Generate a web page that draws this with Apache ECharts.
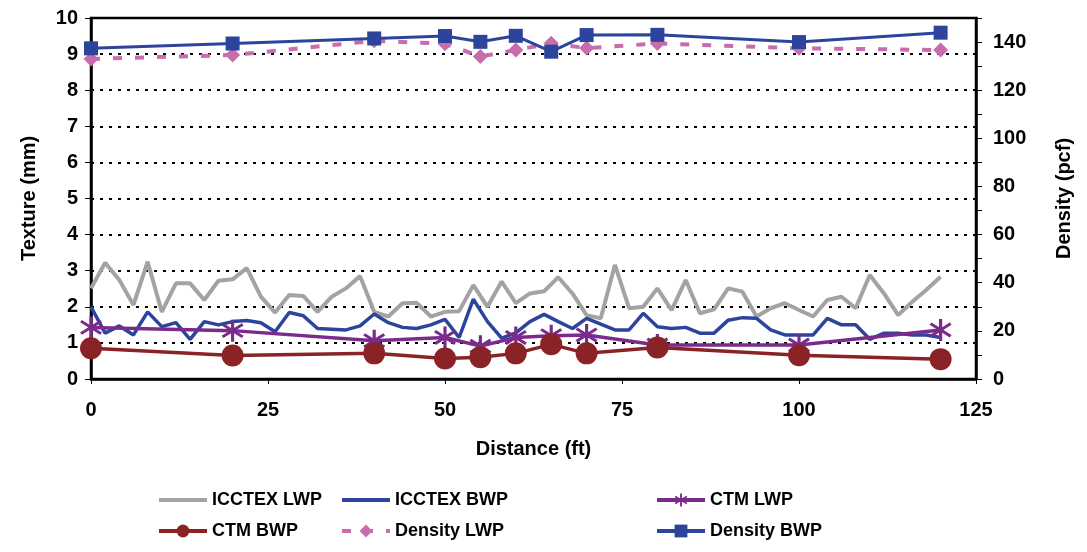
<!DOCTYPE html>
<html>
<head>
<meta charset="utf-8">
<script src="https://cdn.jsdelivr.net/npm/echarts@6/dist/echarts.min.js"></script>
<style>html,body{margin:0;padding:0;background:#fff}#c{width:1087px;height:552px}</style>
</head>
<body>
<div id="c"></div>
<script>
// ---------- data ----------
const icctexDist = [0,2,4,6,8,10,12,14,16,18,20,22,24,26,28,30,32,34,36,38,40,42,44,46,48,50,52,54,56,58,60,62,64,66,68,70,72,74,76,78,80,82,84,86,88,90,92,94,96,98,100,102,104,106,108,110,112,114,116,118,120];
const icctexLWP = [2.51,3.22,2.74,2.05,3.25,1.86,2.65,2.65,2.19,2.72,2.76,3.07,2.28,1.84,2.33,2.30,1.86,2.28,2.51,2.85,1.86,1.73,2.10,2.11,1.73,1.86,1.88,2.60,2.00,2.70,2.10,2.37,2.43,2.82,2.37,1.77,1.68,3.16,1.96,2.00,2.51,1.91,2.74,1.82,1.93,2.51,2.42,1.73,1.96,2.10,1.91,1.73,2.19,2.28,1.96,2.88,2.37,1.77,2.14,2.47,2.83];
const icctexBWP = [2.00,1.27,1.47,1.22,1.86,1.45,1.56,1.10,1.59,1.50,1.59,1.62,1.56,1.31,1.84,1.75,1.40,1.38,1.36,1.47,1.80,1.56,1.43,1.40,1.50,1.65,1.15,2.21,1.59,1.13,1.28,1.59,1.79,1.59,1.40,1.68,1.52,1.36,1.36,1.82,1.45,1.40,1.43,1.27,1.27,1.63,1.70,1.68,1.36,1.22,1.22,1.22,1.68,1.50,1.50,1.10,1.27,1.27,1.22,1.22,1.15];
const ctmDist = [0,20,40,50,55,60,65,70,80,100,120];
const ctmLWP = [1.43,1.34,1.06,1.15,0.91,1.15,1.20,1.22,0.94,0.94,1.36];
const ctmBWP = [0.85,0.65,0.71,0.57,0.60,0.71,0.96,0.71,0.87,0.66,0.55];
const densDist = [0,20,40,50,55,60,65,70,80,100,120];
const densityLWP = [133.0,134.6,140.5,139.3,134.0,136.7,139.5,137.5,139.4,137.4,136.7];
const densityBWP = [137.4,139.4,141.5,142.5,140.1,142.6,136.0,142.9,143.0,140.0,143.9];
const xTicks = [0,25,50,75,100,125];
const seriesNames = ['ICCTEX LWP','ICCTEX BWP','CTM LWP','CTM BWP','Density LWP','Density BWP'];

// ---------- helpers ----------
function pairs(xs, ys){ return xs.map((x,i)=>[x, ys[i]]); }
function asteriskPath(){
  const c = 10, L = 10, w = 1.3, angles = [90, 35, -35];
  let d = '';
  angles.forEach(a=>{
    const r = a*Math.PI/180, ux = Math.cos(r), uy = Math.sin(r), px = -uy, py = ux;
    const pts = [
      [c-ux*L+px*w, c-uy*L+py*w],[c+ux*L+px*w, c+uy*L+py*w],
      [c+ux*L-px*w, c+uy*L-py*w],[c-ux*L-px*w, c-uy*L-py*w]];
    d += 'M'+pts.map(p=>p[0].toFixed(2)+' '+p[1].toFixed(2)).join(' L')+' Z ';
  });
  return 'path://' + d;
}
const FONT = 'Liberation Sans, Arial, sans-serif';
const cGray = '#a3a3a3', cBlue = '#2c449b', cPurple = '#7b2b8c', cRed = '#8a2325', cPink = '#c86cae';

const chart = echarts.init(document.getElementById('c'), null, {renderer:'canvas'});
const legendCols = [157, 340, 655];
const legendRows = [491, 522];
const legends = seriesNames.map((n,i)=>({
  data:[ i<2 ? {name:n, itemStyle:{opacity:0}, lineStyle:{width:4}} : {name:n, lineStyle:{width:4}} ],
  left: legendCols[i%3], top: legendRows[Math.floor(i/3)], padding:0,
  itemWidth: 48, itemHeight: 16, itemGap: 0, selectedMode:false,
  textStyle:{fontFamily:FONT, fontSize:18, fontWeight:'bold', color:'#000'}
}));

chart.setOption({
  animation:false,
  backgroundColor:'#fff',
  legend: legends,
  grid:{left:91, right:111, top:18, bottom:173, show:true, borderColor:'#000', borderWidth:2.5, backgroundColor:'transparent'},
  xAxis:{type:'value', min:0, max:125, interval:25,
    name:'Distance (ft)', nameLocation:'middle', nameGap:60,
    nameTextStyle:{fontFamily:FONT, fontSize:20, fontWeight:'bold', color:'#000'},
    axisLine:{lineStyle:{color:'#000', width:2.5}},
    axisTick:{show:true, length:5, lineStyle:{color:'#000', width:1}},
    axisLabel:{fontFamily:FONT, fontSize:20, fontWeight:'bold', color:'#000', margin:21, formatter:v=> xTicks.includes(v)? String(v):''},
    splitLine:{show:false}},
  yAxis:[
    {type:'value', min:0, max:10, interval:1, position:'left',
     name:'Texture (mm)', nameLocation:'middle', nameGap:52,
     nameTextStyle:{fontFamily:FONT, fontSize:20, fontWeight:'bold', color:'#000'},
     axisLine:{show:true, lineStyle:{color:'#000', width:2.5}},
     axisTick:{show:true, length:6, lineStyle:{color:'#000', width:1}},
     axisLabel:{fontFamily:FONT, fontSize:20, fontWeight:'bold', color:'#000', margin:13},
     splitLine:{show:true, lineStyle:{color:'#000', width:2, type:[3,6]}}},
    {type:'value', min:0, max:150, interval:10, position:'right',
     name:'Density (pcf)', nameLocation:'middle', nameGap:78,
     nameTextStyle:{fontFamily:FONT, fontSize:20, fontWeight:'bold', color:'#000'},
     axisLine:{show:true, lineStyle:{color:'#000', width:2.5}},
     axisTick:{show:true, length:6, lineStyle:{color:'#000', width:1}},
     axisLabel:{fontFamily:FONT, fontSize:20, fontWeight:'bold', color:'#000', margin:17,
       formatter:v=> (v%20===0 && v<150)? String(v):''},
     splitLine:{show:false}}
  ],
  series:[
    {name:seriesNames[0], type:'line', data:pairs(icctexDist, icctexLWP), symbol:'none',
     lineStyle:{color:cGray, width:4}, itemStyle:{color:cGray}},
    {name:seriesNames[1], type:'line', data:pairs(icctexDist, icctexBWP), symbol:'none',
     lineStyle:{color:cBlue, width:3.5}, itemStyle:{color:cBlue}},
    {name:seriesNames[2], type:'line', data:pairs(ctmDist, ctmLWP), symbol:asteriskPath(), symbolSize:22,
     lineStyle:{color:cPurple, width:3.5}, itemStyle:{color:cPurple}},
    {name:seriesNames[3], type:'line', data:pairs(ctmDist, ctmBWP), symbol:'circle', symbolSize:22,
     lineStyle:{color:cRed, width:3.5}, itemStyle:{color:cRed}},
    {name:seriesNames[4], type:'line', yAxisIndex:1, data:pairs(densDist, densityLWP), symbol:'diamond', symbolSize:15,
     lineStyle:{color:cPink, width:4, type:[9,13]}, itemStyle:{color:cPink}},
    {name:seriesNames[5], type:'line', yAxisIndex:1, data:pairs(densDist, densityBWP), symbol:'rect', symbolSize:14,
     lineStyle:{color:cBlue, width:3}, itemStyle:{color:cBlue}}
  ]
});
</script>
</body>
</html>
